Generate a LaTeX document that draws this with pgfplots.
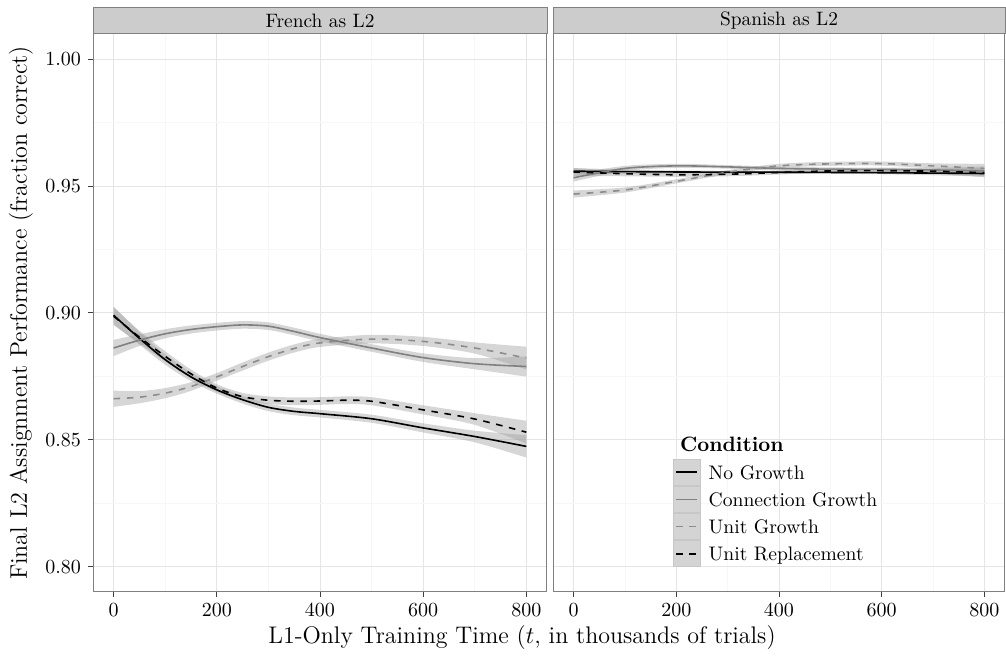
\documentclass[border=0pt]{standalone}
\usepackage{pgfplots}
\pgfplotsset{compat=1.18}
\usepackage{pgfplotstable}
\usepgfplotslibrary{fillbetween}

% French as L2
\pgfplotstableread{
x y lo hi
0 .8991 .8956 .9026
50 .8900 .8875 .8925
100 .8816 .8796 .8836
150 .8748 .8731 .8765
200 .8697 .8682 .8712
250 .8658 .8643 .8673
300 .8628 .8613 .8643
350 .8612 .8597 .8627
400 .8603 .8588 .8618
500 .8583 .8567 .8599
600 .8547 .8529 .8565
700 .8513 .8490 .8536
800 .8474 .8430 .8518
}\frNo
\pgfplotstableread{
x y lo hi
0 .8862 .8830 .8894
50 .8893 .8870 .8916
100 .8918 .8900 .8936
150 .8935 .8919 .8951
200 .8946 .8931 .8961
250 .8953 .8938 .8968
300 .8948 .8933 .8963
350 .8927 .8912 .8942
400 .8903 .8888 .8918
500 .8862 .8847 .8877
600 .8824 .8807 .8841
700 .8800 .8778 .8822
800 .8789 .8749 .8829
}\frConn
\pgfplotstableread{
x y lo hi
0 .8662 .8630 .8694
50 .8668 .8644 .8692
100 .8684 .8664 .8704
150 .8710 .8693 .8727
200 .8748 .8733 .8763
250 .8789 .8773 .8805
300 .8828 .8812 .8844
350 .8860 .8844 .8876
400 .8882 .8866 .8898
500 .8897 .8880 .8914
600 .8888 .8870 .8906
700 .8862 .8840 .8884
800 .8822 .8777 .8867
}\frUnit
\pgfplotstableread{
x y lo hi
0 .8987 .8952 .9022
50 .8905 .8880 .8930
100 .8829 .8809 .8849
150 .8760 .8743 .8777
200 .8704 .8689 .8719
250 .8670 .8655 .8685
300 .8656 .8641 .8671
350 .8652 .8637 .8667
400 .8653 .8638 .8668
450 .8656 .8641 .8671
500 .8652 .8636 .8668
600 .8618 .8600 .8636
700 .8582 .8559 .8605
800 .8530 .8485 .8575
}\frRepl

% Spanish as L2
\pgfplotstableread{
x y lo hi
0 .9559 .9547 .9571
200 .9556 .9550 .9562
400 .9555 .9550 .9560
600 .9553 .9547 .9559
800 .9550 .9538 .9562
}\esNo
\pgfplotstableread{
x y lo hi
0 .9533 .9518 .9548
100 .9570 .9560 .9580
200 .9580 .9572 .9588
300 .9576 .9569 .9583
400 .9570 .9563 .9577
500 .9567 .9560 .9574
600 .9566 .9559 .9573
700 .9564 .9555 .9573
800 .9560 .9542 .9578
}\esConn
\pgfplotstableread{
x y lo hi
0 .9469 .9455 .9483
100 .9485 .9475 .9495
200 .9519 .9511 .9527
300 .9555 .9547 .9563
400 .9580 .9572 .9588
500 .9588 .9580 .9596
600 .9589 .9581 .9597
700 .9580 .9570 .9590
800 .9570 .9552 .9588
}\esUnit
\pgfplotstableread{
x y lo hi
0 .9556 .9540 .9572
100 .9549 .9539 .9559
200 .9545 .9537 .9553
300 .9547 .9539 .9555
400 .9554 .9546 .9562
500 .9560 .9552 .9568
600 .9561 .9553 .9569
700 .9559 .9549 .9569
800 .9553 .9535 .9571
}\esRepl

\newcommand{\ticksize}{\fontsize{9.7}{11}\selectfont}

\pgfplotsset{
  panel/.style={
    scale only axis, width=227pt, height=279pt,
    xmin=-40, xmax=840, ymin=0.79, ymax=1.01,
    xtick={0,200,400,600,800}, minor xtick={100,300,500,700},
    ytick={0.80,0.85,0.90,0.95,1.00}, minor ytick={0.825,0.875,0.925,0.975},
    grid=both,
    major grid style={color=black!10, line width=0.5pt},
    minor grid style={color=black!3, line width=0.4pt},
    axis line style={draw=black!50, line width=0.5pt},
    tick align=outside, major tick length=2.5pt, minor tick length=0pt,
    tick style={black!75, line width=0.5pt},
    xtick pos=bottom, ytick pos=left,
    ticklabel style={font=\ticksize},
    yticklabel style={/pgf/number format/.cd, fixed, fixed zerofill, precision=2},
  },
  band/.style={fill=black!40, fill opacity=0.4, draw=none},
  ngl/.style={black, line width=0.8pt, smooth, solid},
  cgl/.style={black!50, line width=0.8pt, smooth, solid},
  ugl/.style={black!45, line width=0.8pt, smooth, dash pattern=on 3.3pt off 3.3pt},
  url/.style={black, line width=0.8pt, smooth, dash pattern=on 3.3pt off 3.3pt},
}

\newcommand{\ribbon}[2]{%
  \addplot[draw=none, smooth, forget plot, name path=lo#2] table[x=x, y=lo] {#1};
  \addplot[draw=none, smooth, forget plot, name path=hi#2] table[x=x, y=hi] {#1};
  \addplot[band, forget plot] fill between[of=lo#2 and hi#2];
}

\begin{document}
\begin{tikzpicture}

\begin{axis}[panel, at={(46.5pt,32pt)}, anchor=south west]
  \ribbon{\frNo}{a}
  \ribbon{\frConn}{b}
  \ribbon{\frUnit}{c}
  \ribbon{\frRepl}{d}
  \addplot[ngl] table[x=x, y=y] {\frNo};
  \addplot[cgl] table[x=x, y=y] {\frConn};
  \addplot[ugl] table[x=x, y=y] {\frUnit};
  \addplot[url] table[x=x, y=y] {\frRepl};
\end{axis}

\begin{axis}[panel, at={(276.5pt,32pt)}, anchor=south west, width=226pt,
    yticklabels={}, ytick style={draw=none},
    legend style={at={(rel axis cs:0.264,0.2396)}, anchor=north west,
      draw=none, fill=none, inner sep=0pt, row sep=0pt, column sep=3.9pt,
      nodes={inner sep=0pt, text depth=0pt, font=\fontsize{9.8}{11}\selectfont}},
    legend cell align=left,
    legend image code/.code={
      \fill[black!17, draw=black!22, solid, line width=0.5pt] (0pt,-6.55pt) rectangle (13.6pt,6.55pt);
      \draw[#1] (1.5pt,0pt) -- (12.1pt,0pt);
    }]
  \ribbon{\esNo}{a}
  \ribbon{\esConn}{b}
  \ribbon{\esUnit}{c}
  \ribbon{\esRepl}{d}
  \addplot[ngl] table[x=x, y=y] {\esNo};
  \addlegendentry{No Growth}
  \addplot[cgl] table[x=x, y=y] {\esConn};
  \addlegendentry{Connection Growth}
  \addplot[ugl] table[x=x, y=y] {\esUnit};
  \addlegendentry{Unit Growth}
  \addplot[url] table[x=x, y=y] {\esRepl};
  \addlegendentry{Unit Replacement}
\end{axis}

% facet strips
\draw[black!50, fill=black!20, line width=0.5pt] (46.5pt,311pt) rectangle (273.5pt,324pt);
\node[font=\ticksize] at (160pt,317.5pt) {French as L2};
\draw[black!50, fill=black!20, line width=0.5pt] (276.5pt,311pt) rectangle (502.5pt,324pt);
\node[font=\ticksize] at (389.5pt,317.5pt) {Spanish as L2};

% legend title and axis titles
\node[anchor=base west, font=\fontsize{10.4}{12}\selectfont\bfseries] at (336.5pt,102pt) {Condition};
\node[anchor=base, font=\fontsize{12}{14}\selectfont] at (261pt,6pt) {L1-Only Training Time ($t$, in thousands of trials)};
\node[rotate=90, font=\fontsize{12}{14}\selectfont] at (10.5pt,171.5pt) {Final L2 Assignment Performance (fraction correct)};

\pgfresetboundingbox
\path[use as bounding box] (0pt,0pt) rectangle (503pt,328pt);
\end{tikzpicture}
\end{document}
